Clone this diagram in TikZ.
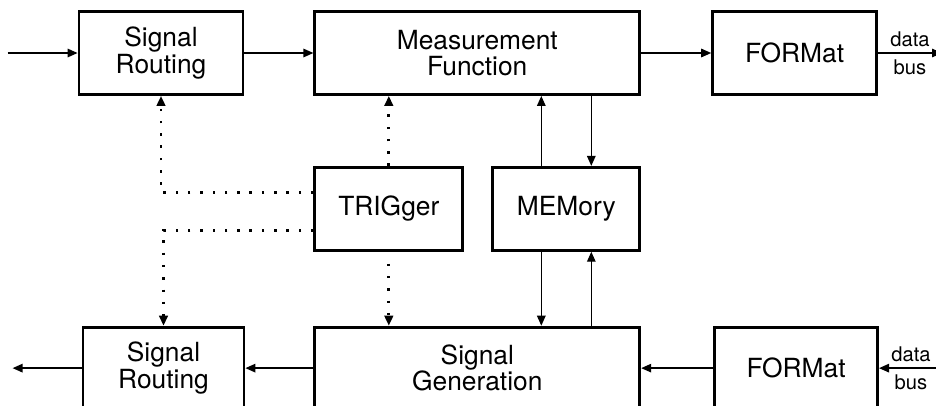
\documentclass[tikz,border=0pt]{standalone}
\usepackage{fontspec}
\setmainfont{TeX Gyre Heros}
\usepackage{tikz}
\usetikzlibrary{arrows.meta,positioning}

\begin{document}
\begin{tikzpicture}[>={Triangle[length=2mm,width=1.7mm]},
  blk/.style={draw,line width=1.6pt,align=center,minimum height=1.66cm,inner sep=2pt,font=\fontsize{15}{15}\selectfont},
  arr/.style={->,line width=0.8pt},
  dotarr/.style={->,line width=1.5pt,dash pattern=on 1.4pt off 5.6pt},
  lbl/.style={font=\fontsize{11.5}{11.5}\selectfont,inner sep=3.2pt}]
  \useasboundingbox (0,0) rectangle (18.72,-8.1);
  % top row
  \node[blk,minimum width=3.28cm] (srIn) at (3.22,-1.06) {Signal\\Routing};
  \node[blk,minimum width=6.5cm,right=1.38cm of srIn] (meas) {Measurement\\Function};
  \node[blk,minimum width=3.28cm,right=1.4cm of meas] (fmtOut) {FORMat};
  % middle
  \node[blk,minimum width=2.96cm,below=1.4cm of meas.south west,anchor=north west] (trig) {TRIGger};
  \node[blk,minimum width=2.94cm,below=1.4cm of meas.south east,anchor=north east] (mem) {MEMory};
  % bottom row
  \node[blk,minimum width=6.5cm,minimum height=1.64cm,below=1.48cm of trig.south west,anchor=north west] (gen) {Signal\\Generation};
  \node[blk,minimum width=3.22cm,minimum height=1.64cm,left=1.36cm of gen] (srOut) {Signal\\Routing};
  \node[blk,minimum width=3.26cm,minimum height=1.64cm,right=1.44cm of gen] (fmtIn) {FORMat};
  \coordinate[left=1.4cm of srIn] (inL);
  \coordinate[right=1.28cm of fmtOut] (outR);
  \coordinate[left=1.38cm of srOut] (outL);
  \coordinate[right=1.28cm of fmtIn] (inR);
  % signal path
  \draw[arr] (inL) -- (srIn);
  \draw[arr] (srIn) -- (meas);
  \draw[arr] (meas) -- (fmtOut);
  \draw[arr] (fmtOut) -- node[lbl,above]{data} node[lbl,below]{bus} (outR);
  \draw[arr] (inR) -- node[lbl,above]{data} node[lbl,below]{bus} (fmtIn);
  \draw[arr] (fmtIn) -- (gen);
  \draw[arr] (gen) -- (srOut);
  \draw[arr] (srOut) -- (outL);
  % memory
  \coordinate (mUp) at ([xshift=-5mm]mem.north);
  \coordinate (mDn) at ([xshift=5mm]mem.north);
  \coordinate (gDn) at ([xshift=-5mm]mem.south);
  \coordinate (gUp) at ([xshift=5mm]mem.south);
  \draw[arr] (mUp) -- (mUp |- meas.south);
  \draw[arr] (mDn |- meas.south) -- (mDn);
  \draw[arr] (gDn) -- (gDn |- gen.north);
  \draw[arr] (gUp |- gen.north) -- (gUp);
  % trigger lines
  \draw[dotarr] ([yshift=3.3mm]trig.west) -| (srIn);
  \draw[dotarr] ([yshift=-4.3mm]trig.west) -| (srOut);
  \draw[dotarr] (trig) -- (trig |- meas.south);
  \draw[dotarr,shorten <=2.4mm] (trig) -- (trig |- gen.north);
\end{tikzpicture}
\end{document}
